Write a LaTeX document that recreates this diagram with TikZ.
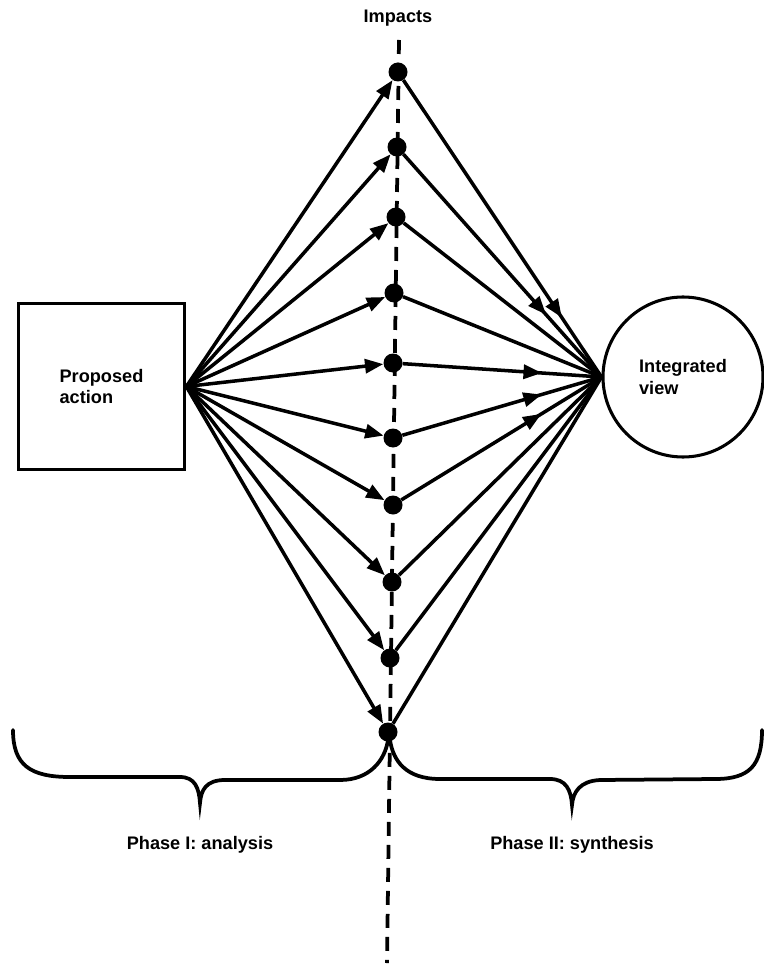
\documentclass[tikz,border=0pt]{standalone}
\usepackage{fontspec}
\setmainfont{Liberation Sans}
\usetikzlibrary{arrows.meta}
\usetikzlibrary{decorations.markings}

\begin{document}
\begin{tikzpicture}[x=0.03cm,y=-0.03cm,
        every node/.style={font=\fontsize{15.5}{18.5}\selectfont\bfseries},
        impact/.style={circle,fill=black,inner sep=0pt,minimum size=0.57cm},
        link/.style={line width=3pt},
        tip/.style={-{Triangle[length=0.55cm,width=0.42cm]}},
        midarrow/.style={postaction={decorate,decoration={markings,
            mark=at position #1 with {\arrow{Triangle[length=0.55cm,width=0.42cm]}}}}},
        brace/.style={line width=3.2pt,line cap=round}]
        \useasboundingbox (0,0) rectangle (763,965);
        \coordinate (axtop) at (399,40);
        \coordinate (axbot) at (387,963);
        \draw[line width=3.2pt,dash pattern=on 0.42cm off 0.27cm] (axtop) -- (axbot);
        \node[draw,line width=2.6pt,minimum size=5.0cm,inner sep=0pt,align=left] (pa) at (101.5,386.5) {Proposed\\action};
        \node[draw,circle,line width=2.6pt,minimum size=4.8cm,inner sep=0pt,align=left] (iv) at (683,377) {Integrated\\view};
        \node (imp) at (398,18) {Impacts};
        \foreach \n/\x/\y in {1/398/72,2/397/147,3/396/217,4/394/293,5/393/363,
                6/393/438,7/393/505,8/392/582,9/390/658,10/388/732}{
            \node[impact] (d\n) at (\x,\y) {};
            \draw[link,tip] (pa.east) -- (d\n);
        }
        \foreach \n/\p in {1/0.8,2/0.72,5/0.7,6/0.7,7/0.7}{
            \draw[link,midarrow=\p] (d\n) -- (iv.west);
        }
        \foreach \n in {3,4,8,9,10}{
            \draw[link] (d\n) -- (iv.west);
        }
        % braces under the two phases
        \draw[brace] (13,730) .. controls (13,765) and (30,777) .. (70,777) -- (180,777)
            .. controls (195,777) and (199,788) .. (200,803)
            .. controls (201,790) and (206,780) .. (225,780) -- (340,780)
            .. controls (370,780) and (385,760) .. (388,740);
        \draw[brace] (390,740) .. controls (393,760) and (405,779) .. (440,779) -- (550,779)
            .. controls (566,779) and (571,790) .. (572,805)
            .. controls (573,792) and (580,781) .. (600,780) -- (715,779)
            .. controls (750,779) and (762,765) .. (762,730);
        \node (ph1) at (200,845) {Phase I: analysis};
        \node (ph2) at (572,845) {Phase II: synthesis};
    \end{tikzpicture}
\end{document}
